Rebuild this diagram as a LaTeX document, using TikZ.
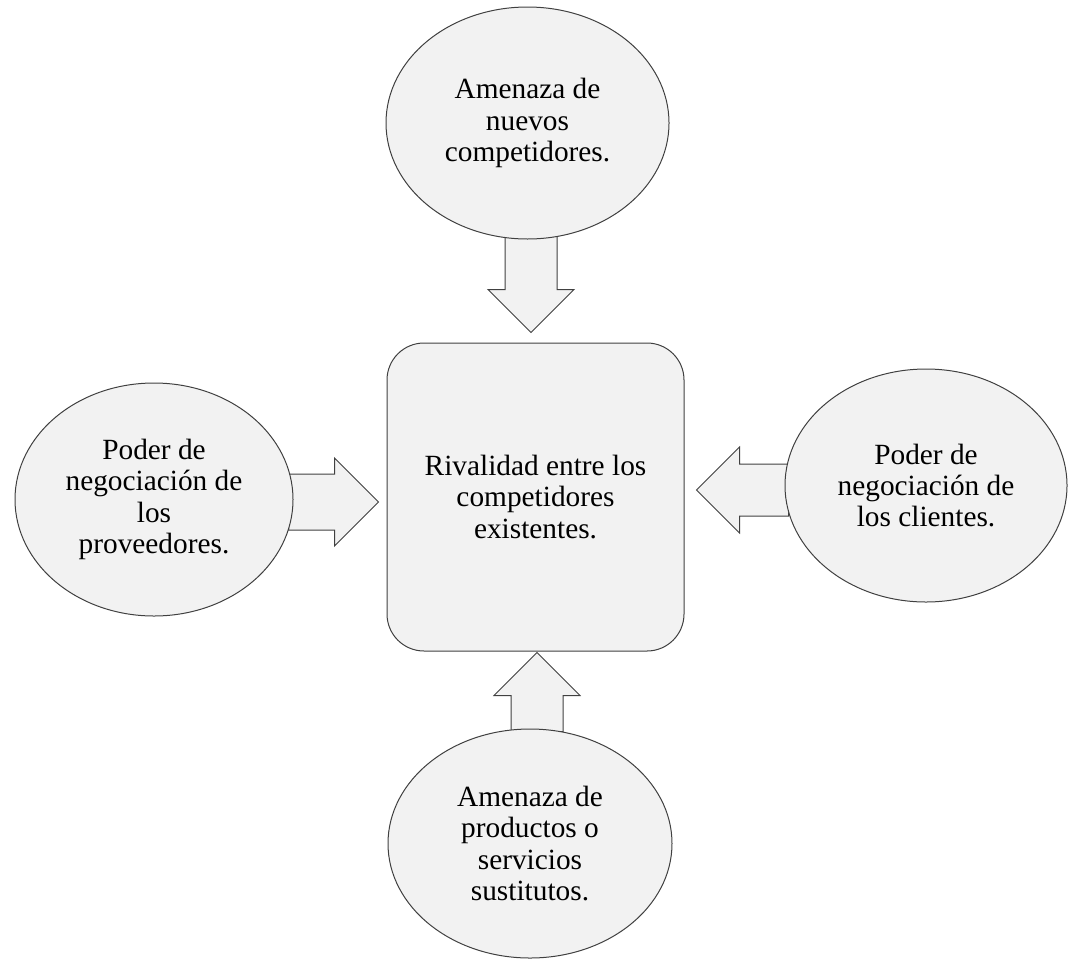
\documentclass[tikz,border=0pt]{standalone}
\usepackage{fontspec}
\setmainfont{Liberation Serif}
\usetikzlibrary{shapes.geometric, shapes.arrows}
\definecolor{boxgray}{HTML}{F2F2F2}
\definecolor{linegray}{HTML}{404040}

\begin{document}
\begin{tikzpicture}[x=0.75pt, y=-0.75pt,
        force/.style={draw=linegray, fill=boxgray, line width=0.75pt, ellipse, inner sep=0pt, align=center, font=\fontsize{22}{23.5}\selectfont},
        blockarrow/.style={draw=linegray, fill=boxgray, line width=0.75pt, single arrow, inner xsep=0pt, inner ysep=19.125pt, single arrow head extend=12.75pt, anchor=tail}]
        \useasboundingbox (0, 0) rectangle (1069, 960);

        \node[blockarrow, minimum height=72.75pt, rotate=-90] (anew) at (531, 235) {};
        \node[blockarrow, minimum height=67.5pt, inner ysep=20.625pt, single arrow head extend=12pt] (asup) at (288, 502) {};
        \node[blockarrow, minimum height=69pt, rotate=180] (acli) at (789, 490) {};
        \node[blockarrow, minimum height=59.25pt, rotate=90] (asub) at (537, 732) {};

        \node[force, minimum width=212.25pt, minimum height=174pt] (newcomp) at (527.5, 123) {Amenaza de\\nuevos\\competidores.};
        \node[force, minimum width=208.5pt, minimum height=174.75pt] (suppliers) at (154, 499.5) {Poder de\\negociación de\\los\\proveedores.};
        \node[force, minimum width=211.5pt, minimum height=174.75pt] (clients) at (926, 485.5) {Poder de\\negociación de\\los clientes.};
        \node[force, minimum width=213pt, minimum height=171.75pt] (substit) at (530, 843.5) {Amenaza de\\productos o\\servicios\\sustitutos.};
        \node[draw=linegray, fill=boxgray, line width=0.75pt, rounded corners=27.75pt, minimum width=222.75pt, minimum height=231pt, align=center, font=\fontsize{22}{23.5}\selectfont] (rivalry) at (535.5, 497) {Rivalidad entre los\\competidores\\existentes.};
\end{tikzpicture}
\end{document}
